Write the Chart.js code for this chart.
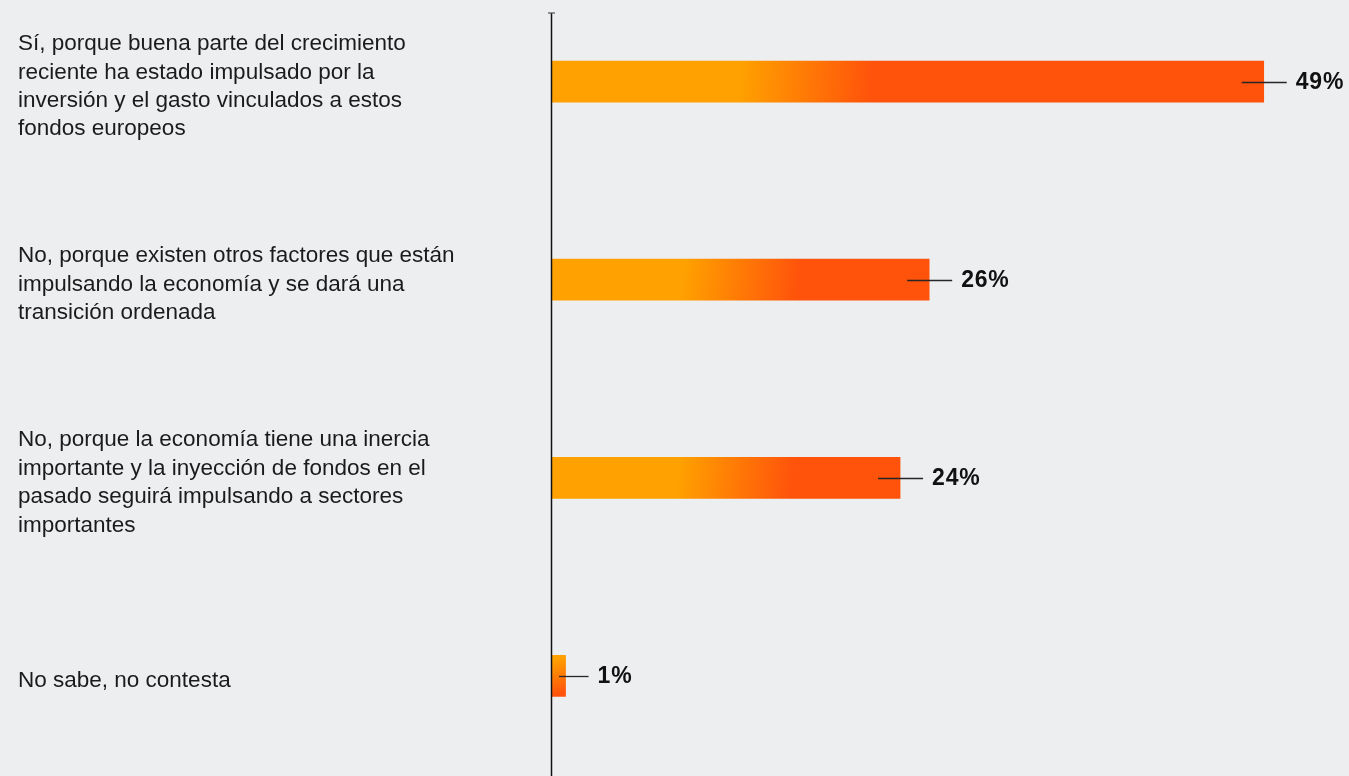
<!DOCTYPE html>
<html lang="es">
<head>
  <meta charset="UTF-8">
  <title>Fondos europeos</title>
  <style>
    body {
      margin: 0;
      background: #edeef0;
      font-family: 'Liberation Sans', Arial, sans-serif;
    }
    .wrap {
      position: relative;
      width: 1349px;
      height: 776px;
      overflow: hidden;
    }
    #chart {
      position: absolute;
      left: 0;
      top: -30px;
    }
  </style>
  <script src="https://cdn.jsdelivr.net/npm/chart.js"></script>
</head>
<body>
  <div class="wrap">
    <canvas id="chart" width="1360" height="822"></canvas>
  </div>

  <script>
    // respuestas (una línea por elemento)
    const categories = [
      ['Sí, porque buena parte del crecimiento', 'reciente ha estado impulsado por la', 'inversión y el gasto vinculados a estos', 'fondos europeos'],
      ['No, porque existen otros factores que están', 'impulsando la economía y se dará una', 'transición ordenada'],
      ['No, porque la economía tiene una inercia', 'importante y la inyección de fondos en el', 'pasado seguirá impulsando a sectores', 'importantes'],
      ['No sabe, no contesta']
    ];
    const values = [49, 26, 24, 1];
    const valueLabels = values.map(v => v + '%');

    const ORANGE = '#ffa100';
    const RED = '#ff530b';
    const BAR_H = 41;

    // degradado naranja -> rojo en diagonal sobre cada barra
    function barGradient(ctx) {
      const chart = ctx.chart;
      if (!chart.chartArea || ctx.dataIndex === undefined) return ORANGE;
      const xs = chart.scales.x, ys = chart.scales.y;
      const left = xs.getPixelForValue(0);
      const right = xs.getPixelForValue(values[ctx.dataIndex]);
      const yc = ys.getPixelForValue(ctx.dataIndex);
      const w = Math.max(right - left, 1);
      // la transición no escala del todo con el largo de la barra
      let s0 = 68 / w + 0.17, s1 = 164 / w + 0.22;
      if (s1 >= 1) { s0 = 0.12; s1 = 0.9; }
      const g = chart.ctx.createLinearGradient(left, yc - BAR_H / 2, right, yc + BAR_H / 2);
      g.addColorStop(0, ORANGE);
      g.addColorStop(s0, ORANGE);
      g.addColorStop(s1, RED);
      g.addColorStop(1, RED);
      return g;
    }

    // eje vertical con remate arriba
    const axisLine = {
      id: 'axisLine',
      afterDatasetsDraw(chart) {
        const { ctx, chartArea } = chart;
        const x = chartArea.left + 0.5;
        const top = chartArea.top + 30.5;
        ctx.save();
        ctx.strokeStyle = '#111';
        ctx.lineWidth = 1.5;
        ctx.beginPath();
        ctx.moveTo(x, top);
        ctx.lineTo(x, chart.height);
        ctx.stroke();
        ctx.strokeStyle = '#555';
        ctx.lineWidth = 1.2;
        ctx.beginPath();
        ctx.moveTo(x - 3.5, top);
        ctx.lineTo(x + 3.5, top);
        ctx.stroke();
        ctx.restore();
      }
    };

    // guía y porcentaje al final de cada barra
    const valueTags = {
      id: 'valueTags',
      afterDatasetsDraw(chart) {
        const { ctx, chartArea } = chart;
        chart.getDatasetMeta(0).data.forEach((bar, i) => {
          const y = Math.round(bar.y) + 0.5;
          ctx.save();
          ctx.strokeStyle = '#262626';
          ctx.lineWidth = 1.3;
          ctx.beginPath();
          ctx.moveTo(Math.max(bar.x - 22, chartArea.left + 8), y);
          ctx.lineTo(bar.x + 23, y);
          ctx.stroke();
          ctx.fillStyle = '#111';
          ctx.font = 'bold 23px "Liberation Sans", Arial, sans-serif';
          ctx.letterSpacing = '0.8px';
          ctx.textAlign = 'left';
          ctx.textBaseline = 'middle';
          ctx.fillText(valueLabels[i], bar.x + 32, bar.y + 1);
          ctx.restore();
        });
      }
    };

    new Chart(document.getElementById('chart').getContext('2d'), {
      type: 'bar',
      data: {
        labels: categories,
        datasets: [{
          data: values,
          backgroundColor: barGradient,
          borderWidth: 0,
          barThickness: BAR_H
        }]
      },
      options: {
        indexAxis: 'y',
        responsive: false,
        animation: false,
        layout: { padding: { left: 18, top: 12.5, right: 9, bottom: 17 } },
        plugins: {
          legend: { display: false },
          tooltip: { enabled: false }
        },
        scales: {
          x: {
            display: false,
            min: 0,
            max: 55
          },
          y: {
            grid: { display: false },
            border: { display: false },
            afterFit(scale) {
              scale.width = 533;
              scale.paddingTop = 0;
              scale.paddingBottom = 0;
            },
            ticks: {
              autoSkip: false,
              crossAlign: 'far',
              labelOffset: 5,
              color: '#1b1b1b',
              font: { family: '"Liberation Sans", Arial, sans-serif', size: 22.5, lineHeight: 1.265 }
            }
          }
        }
      },
      plugins: [axisLine, valueTags]
    });
  </script>
</body>
</html>
